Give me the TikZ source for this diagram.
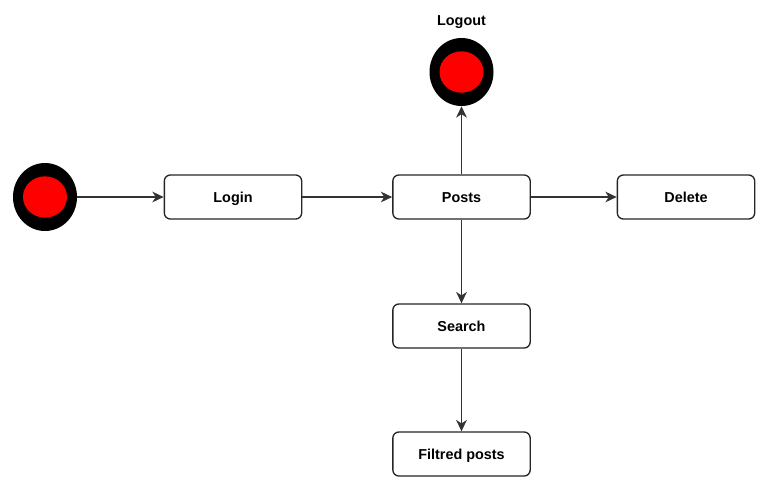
\documentclass[tikz,border=0pt]{standalone}
\usepackage{fontspec}
\setmainfont{Liberation Sans}
\usetikzlibrary{shapes.geometric,arrows.meta}
\definecolor{edge}{HTML}{333333}
\tikzset{
  box/.style={draw=black!85, line width=1pt, rounded corners=4.5pt, fill=white,
    minimum width=103pt, minimum height=33pt, inner sep=0pt,
    text height=0.966em, text depth=0.15em,
    font=\fontsize{10.8}{13}\selectfont\bfseries},
  outerdot/.style={ellipse, fill=black, draw=none, minimum width=48pt, minimum height=51pt, inner sep=0pt},
  innerdot/.style={ellipse, fill=red, draw=none, minimum width=33pt, minimum height=31pt, inner sep=0pt},
  conn/.style={draw=edge, line width=1.1pt, -{Stealth[length=8.5pt,width=8pt,inset=2.6pt]}},
  lbl/.style={font=\fontsize{10.8}{13}\selectfont\bfseries, inner sep=0pt, text height=0.966em, text depth=0.15em}
}
\begin{document}
\begin{tikzpicture}[x=0.75pt,y=-0.75pt]
\useasboundingbox (0,0) rectangle (781,496);
\node[outerdot] (start) at (45,197) {};
\node[innerdot] (startin) at (45,197) {};
\node[outerdot] (logout) at (461.5,72) {};
\node[innerdot] (logoutin) at (461.5,72) {};
\node[lbl] (logoutlbl) at (461.5,20) {Logout};
\node[box] (login) at (233,197) {Login};
\node[box] (posts) at (461.5,197) {Posts};
\node[box] (delete) at (686,197) {Delete};
\node[box] (search) at (461.5,326) {Search};
\node[box] (filtered) at (461.5,454) {Filtred posts};
\draw[conn] (start) -- (login);
\draw[conn] (login) -- (posts);
\draw[conn] (posts) -- (delete);
\draw[conn] (posts) -- (logout);
\draw[conn] (posts) -- (search);
\draw[conn] (search) -- (filtered);
\end{tikzpicture}
\end{document}
